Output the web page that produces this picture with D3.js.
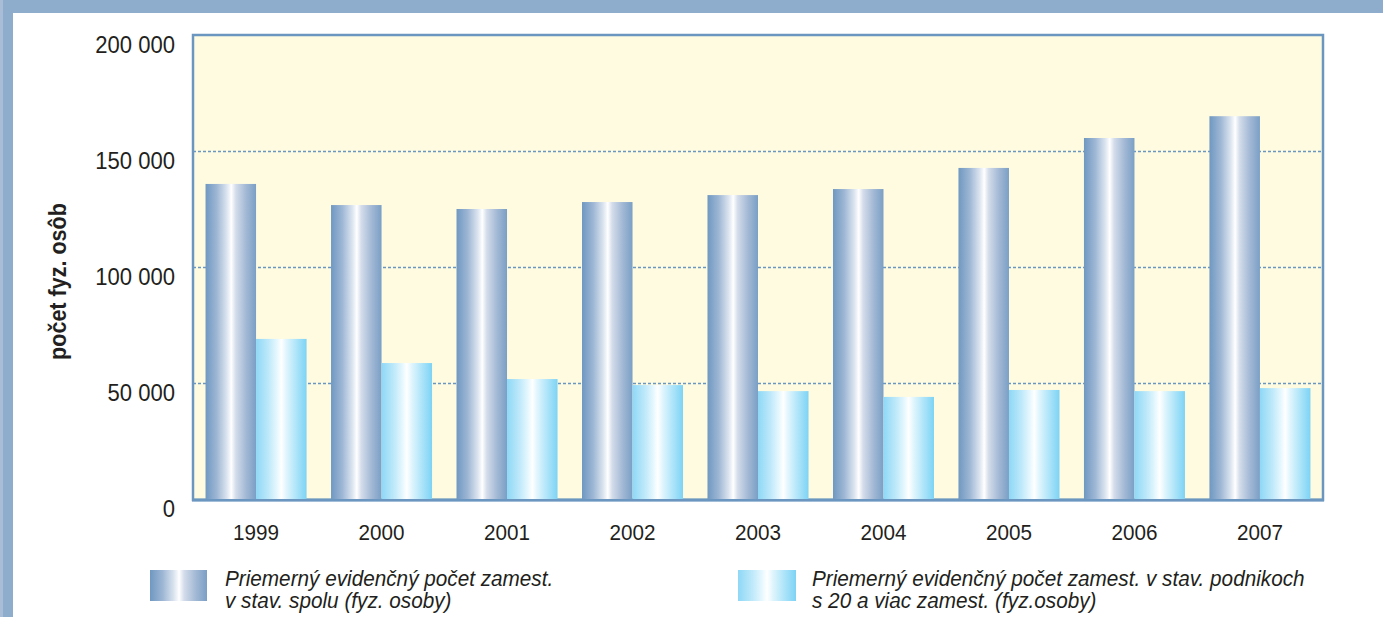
<!DOCTYPE html>
<html>
<head>
<meta charset="utf-8">
<script src="https://cdn.jsdelivr.net/npm/d3@7"></script>
<style>
  html, body { margin: 0; padding: 0; background: #ffffff; }
  svg { display: block; }
  text { font-family: "Liberation Sans", Arial, sans-serif; fill: #231f20; }
</style>
</head>
<body>
<svg id="chart" width="1383" height="617"></svg>
<script>
const years = ["1999", "2000", "2001", "2002", "2003", "2004", "2005", "2006", "2007"];
const seriesNames = [
  ["Priemerný evidenčný počet zamest.", "v stav. spolu (fyz. osoby)"],
  ["Priemerný evidenčný počet zamest. v stav. podnikoch", "s 20 a viac zamest. (fyz.osoby)"]
];
const totalEmployees = [135800, 126700, 125000, 128000, 131000, 133600, 142700, 155600, 165000];
const largeFirmEmployees = [69000, 58600, 51700, 49100, 46500, 44000, 47000, 46500, 47800];
const yTicks = [0, 50000, 100000, 150000, 200000];
const yTickLabels = ["0", "50 000", "100 000", "150 000", "200 000"];
const yTitle = "počet fyz. osôb";

(function () {
const svg = d3.select("#chart");
const W = 1383, H = 617;
const SX = 0.92;

// frame
svg.append("rect").attr("x", 0).attr("y", 0).attr("width", W).attr("height", 13).attr("fill", "#8eadcc");
svg.append("rect").attr("x", 0).attr("y", 0).attr("width", 3).attr("height", H).attr("fill", "#a9bed6");
svg.append("rect").attr("x", 3).attr("y", 0).attr("width", 10).attr("height", H).attr("fill", "#8eadcc");

// gradients
const defs = svg.append("defs");
const g1 = defs.append("linearGradient").attr("id", "gDark").attr("x1", "0%").attr("x2", "100%").attr("y1", "0%").attr("y2", "0%");
[[0, "#6f98c1"], [0.22, "#9db6d4"], [0.42, "#dbe4ef"], [0.51, "#ffffff"], [0.6, "#d3dcea"], [0.8, "#a3b9d5"], [1, "#7a9fc5"]]
  .forEach(([o, c]) => g1.append("stop").attr("offset", o).attr("stop-color", c));
const g2 = defs.append("linearGradient").attr("id", "gLight").attr("x1", "0%").attr("x2", "100%").attr("y1", "0%").attr("y2", "0%");
[[0, "#8ed8f6"], [0.25, "#bfe9fa"], [0.42, "#e8f8fe"], [0.5, "#ffffff"], [0.6, "#e0f5fd"], [0.8, "#ade4f9"], [1, "#7dd3f5"]]
  .forEach(([o, c]) => g2.append("stop").attr("offset", o).attr("stop-color", c));

const pLeft = 193, pRight = 1323, pTop = 35, pBottom = 499;

const y = d3.scaleLinear().domain([0, 200000]).range([pBottom, pTop]);
const x0 = d3.scaleBand().domain(years).range([pLeft, pRight]).paddingInner(0.195).paddingOuter(0.1);
const x1 = d3.scaleBand().domain([0, 1]).range([0, x0.bandwidth()]);

// plot background
svg.append("rect").attr("x", pLeft).attr("y", pTop).attr("width", pRight - pLeft).attr("height", pBottom - pTop)
  .attr("fill", "#fefbe0");

// gridlines
svg.append("g").selectAll("line").data(yTicks.filter(d => d > 0 && d < 200000)).join("line")
  .attr("x1", pLeft).attr("x2", pRight)
  .attr("y1", d => Math.round(y(d)) + 0.5).attr("y2", d => Math.round(y(d)) + 0.5)
  .attr("stroke", "#6b96bf").attr("stroke-width", 1.3).attr("stroke-dasharray", "3,2");

// plot border
svg.append("rect").attr("x", pLeft).attr("y", pTop).attr("width", pRight - pLeft).attr("height", pBottom - pTop + 1)
  .attr("fill", "none").attr("stroke", "#6b96bf").attr("stroke-width", 2.5);
svg.append("line").attr("x1", pLeft - 1).attr("x2", pRight + 1).attr("y1", 500).attr("y2", 500)
  .attr("stroke", "#6b96bf").attr("stroke-width", 3);

// bars
const series = [totalEmployees, largeFirmEmployees];
const fills = ["url(#gDark)", "url(#gLight)"];
const groups = svg.append("g").selectAll("g").data(years).join("g")
  .attr("transform", d => `translate(${x0(d)},0)`);
groups.selectAll("rect").data((d, i) => series.map((s, k) => ({ k, v: s[i] }))).join("rect")
  .attr("x", d => x1(d.k))
  .attr("width", x1.bandwidth())
  .attr("y", d => y(d.v))
  .attr("height", d => y(0) - y(d.v))
  .attr("fill", d => fills[d.k]);

// y axis labels
const yAxis = d3.axisLeft(y).tickValues(yTicks).tickFormat((d, i) => yTickLabels[i]).tickSize(0).tickPadding(0);
const yg = svg.append("g").attr("transform", `translate(175,0)`).call(yAxis);
yg.select(".domain").remove();
yg.selectAll("text").attr("x", 0).attr("dy", "0.7em").attr("transform", "translate(0,1) scale(" + SX + ",1)")
  .style("font-size", "24px").style("font-family", '"Liberation Sans", Arial, sans-serif').attr("fill", "#231f20");

// x axis labels
const xAxis = d3.axisBottom(x0).tickSize(0).tickPadding(0);
const xg = svg.append("g").attr("transform", `translate(0,540)`).call(xAxis);
xg.select(".domain").remove();
xg.selectAll("text").attr("y", 0).attr("dy", 0).attr("transform", "scale(" + SX + ",1)")
  .style("font-size", "22.5px").style("font-family", '"Liberation Sans", Arial, sans-serif').attr("fill", "#231f20");

// y title (bold, condensed to fit ~157px)
const yt = svg.append("text")
  .attr("text-anchor", "middle")
  .style("font-family", '"Liberation Sans Narrow", "Liberation Sans", Arial, sans-serif')
  .style("font-weight", "bold").style("font-size", "24px")
  .text(yTitle);
const tl = yt.node().getComputedTextLength() || 157;
const sc = 157 / tl;
yt.attr("transform", `translate(66,281.5) rotate(-90) scale(${sc},1)`);

// legend
const legendPos = [{ sx: 150, sw: 57, tx: 225 }, { sx: 738, sw: 58, tx: 812 }];
legendPos.forEach((p, i) => {
  svg.append("rect").attr("x", p.sx).attr("y", 570).attr("width", p.sw).attr("height", 31).attr("fill", fills[i]);
  const t = svg.append("text").attr("transform", `translate(${p.tx},586) scale(0.93,1)`)
    .style("font-style", "italic").style("font-size", "22.3px");
  seriesNames[i].forEach((line, j) => {
    t.append("tspan").attr("x", 0).attr("y", j * 22).text(line);
  });
});
})();
</script>
</body>
</html>
